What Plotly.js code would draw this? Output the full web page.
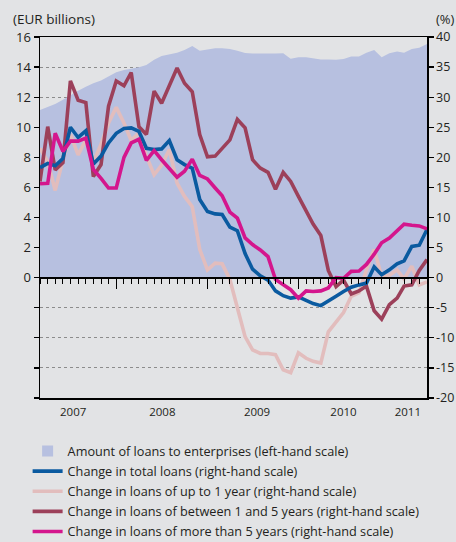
<!DOCTYPE html>
<html>
<head>
<meta charset="utf-8">
<script src="https://cdn.plot.ly/plotly-3.0.1.min.js"></script>
<style>html,body{margin:0;padding:0;background:#e2e3e5;}#chart{width:456px;height:542px;}</style>
</head>
<body>
<div id="chart"></div>
<script>
const months = [
  '2007-03','2007-04','2007-05','2007-06','2007-07','2007-08','2007-09','2007-10','2007-11','2007-12',
  '2008-01','2008-02','2008-03','2008-04','2008-05','2008-06','2008-07','2008-08','2008-09','2008-10','2008-11','2008-12',
  '2009-01','2009-02','2009-03','2009-04','2009-05','2009-06','2009-07','2009-08','2009-09','2009-10','2009-11','2009-12',
  '2010-01','2010-02','2010-03','2010-04','2010-05','2010-06','2010-07','2010-08','2010-09','2010-10','2010-11','2010-12',
  '2011-01','2011-02','2011-03','2011-04','2011-05','2011-06'
];

// Amount of loans to enterprises, EUR billions (left-hand scale)
const loansAmount = [
  11.15, 11.33, 11.55, 11.82, 12.13, 12.42, 12.70, 12.93, 13.10, 13.37,
  13.66, 13.81, 13.88, 13.99, 14.14, 14.48, 14.74, 14.87, 14.96, 15.14,
  15.40, 15.09, 15.18, 15.25, 15.25, 15.20, 15.09, 14.94, 14.90, 14.92,
  14.90, 14.90, 14.92, 14.56, 14.65, 14.65, 14.59, 14.50, 14.50, 14.48,
  14.54, 14.70, 14.70, 14.96, 15.14, 14.65, 14.92, 15.03, 14.96, 15.20,
  15.29, 15.54
];

// Changes, % (right-hand scale)
const totalLoans = [
  18.3, 19.0, 18.6, 19.8, 25.0, 23.3, 24.4, 18.9, 20.2, 22.4,
  24.0, 24.8, 24.9, 24.3, 21.5, 21.3, 21.4, 22.8, 19.6, 18.8,
  18.2, 13.0, 11.0, 10.6, 10.5, 8.4, 7.8, 4.0, 1.4, 0.3,
  -0.4, -2.2, -3.0, -3.4, -3.2, -3.8, -4.3, -4.65, -3.8, -3.1,
  -2.3, -1.6, -1.2, -0.9, 1.8, 0.5, 1.3, 2.3, 2.8, 5.2,
  5.4, 8.0
];
const upTo1Year = [
  21.5, 19.3, 14.5, 19.6, 23.8, 20.4, 22.9, 19.2, 22.2, 25.7,
  28.3, 25.7, 22.8, 24.1, 20.2, 17.1, 18.7, 21.3, 15.7, 13.5,
  11.8, 4.7, 1.3, 2.4, 2.3, -0.3, -5.0, -9.8, -12.0, -12.6,
  -12.6, -12.8, -15.3, -15.8, -12.5, -13.4, -13.9, -14.2, -9.0, -7.3,
  -5.8, -3.1, -2.5, 1.3, 4.7, 0.2, 0.4, 1.3, -0.2, 1.9,
  -1.2, -0.7
];
const between1and5 = [
  16.0, 25.1, 17.9, 19.1, 32.7, 29.5, 29.1, 16.8, 18.8, 28.5,
  32.7, 31.9, 34.1, 25.1, 23.8, 31.0, 29.0, 32.0, 34.85, 32.3,
  30.9, 23.8, 20.1, 20.2, 21.5, 22.9, 26.3, 24.9, 19.6, 18.2,
  17.5, 14.7, 17.5, 16.0, 13.5, 11.0, 8.9, 7.0, 1.2, -1.5,
  -0.4, -2.7, -2.2, -1.4, -5.5, -6.9, -4.5, -3.4, -1.4, -1.2,
  1.2, 3.0
];
const moreThan5 = [
  15.6, 15.7, 24.0, 21.0, 22.7, 22.7, 23.2, 18.0, 16.5, 14.9,
  14.9, 20.0, 22.4, 23.0, 19.5, 21.1, 19.6, 18.2, 16.7, 17.7,
  19.7, 17.0, 16.4, 14.9, 13.6, 10.9, 9.9, 6.6, 5.5, 4.6,
  3.5, -0.3, -1.2, -2.0, -3.4, -2.2, -2.3, -2.2, -1.7, 0.0,
  -0.1, 1.05, 1.1, 2.2, 3.9, 5.8, 6.6, 7.8, 8.9, 8.7,
  8.6, 8.1
];

const yearLabels = ['2007', '2008', '2009', '2010', '2011'];
const yearLabelPos = ['2007-07-12', '2008-07-04', '2009-07-19', '2010-07-01', '2011-03-16'];
const leftTicks = [-8, -6, -4, -2, 0, 2, 4, 6, 8, 10, 12, 14, 16];
const leftTickText = ['', '', '', '', '0', '2', '4', '6', '8', '10', '12', '14', '16'];
const rightTicks = [-20, -15, -10, -5, 0, 5, 10, 15, 20, 25, 30, 35, 40];
const rightTickText = ['-20', '-15', '-10', '-5', '0', '5', '10', '15', '20', '25', '30', '35', '40'];

const names = [
  'Amount of loans to enterprises (left-hand scale)',
  'Change in total loans (right-hand scale)',
  'Change in loans of up to 1 year (right-hand scale)',
  'Change in loans of between 1 and 5 years (right-hand scale)',
  'Change in loans of more than 5 years (right-hand scale)'
];
const colors = {
  area: '#b7c0e0', total: '#0a5aa0', short: '#e2bdbd', mid: '#9c405a', long: '#d4168d'
};

const FONT = 'Open Sans, Noto Sans, sans-serif';
const TXT = '#231f20';
const LW = 3.6;

const traces = [
  {
    type: 'scatter', x: months, y: loansAmount, xaxis: 'x', yaxis: 'y',
    mode: 'lines', fill: 'tozeroy', line: {width: 0, color: colors.area},
    fillcolor: colors.area, showlegend: false, hoverinfo: 'skip'
  },
  {
    type: 'scatter', x: [null], y: [null], xaxis: 'x', yaxis: 'y',
    mode: 'markers', marker: {symbol: 'square', size: 11, color: colors.area},
    name: names[0], legendrank: 1, legendgroup: 'g1'
  },
  {
    type: 'scatter', x: months, y: upTo1Year, xaxis: 'x2', yaxis: 'y2',
    mode: 'lines', line: {color: colors.short, width: LW}, name: names[2], legendrank: 3, legendgroup: 'g3'
  },
  {
    type: 'scatter', x: months, y: between1and5, xaxis: 'x2', yaxis: 'y2',
    mode: 'lines', line: {color: colors.mid, width: LW}, name: names[3], legendrank: 4, legendgroup: 'g4'
  },
  {
    type: 'scatter', x: months, y: totalLoans, xaxis: 'x2', yaxis: 'y2',
    mode: 'lines', line: {color: colors.total, width: LW}, name: names[1], legendrank: 2, legendgroup: 'g2'
  },
  {
    type: 'scatter', x: months, y: moreThan5, xaxis: 'x2', yaxis: 'y2',
    mode: 'lines', line: {color: colors.long, width: LW}, name: names[4], legendrank: 5, legendgroup: 'g5'
  }
];

const xRange = ['2007-03-01', '2011-06-01'];

const layout = {
  width: 456, height: 542,
  margin: {l: 40, r: 29, t: 37, b: 144, pad: 0, autoexpand: false},
  paper_bgcolor: '#e2e3e5', plot_bgcolor: '#e2e3e5',
  font: {family: FONT, size: 12, color: TXT},
  showlegend: true,
  xaxis: {
    type: 'date', range: xRange, tickmode: 'array', tickvals: yearLabelPos, ticktext: yearLabels,
    ticks: '', showgrid: false, zeroline: false, ticklabelstandoff: 3,
    showline: true, linecolor: '#000', linewidth: 1.5, mirror: true,
    tickfont: {family: FONT, size: 11.5, color: TXT}, fixedrange: true, automargin: false
  },
  xaxis2: {
    type: 'date', range: xRange, overlaying: 'x', anchor: 'free', position: 1/3, side: 'bottom',
    tickmode: 'linear', tick0: '2007-01-01', dtick: 'M12', ticks: 'outside', ticklen: 10,
    tickcolor: '#000', tickwidth: 1.2, showticklabels: false, showgrid: false, zeroline: false,
    showline: true, linecolor: '#000', linewidth: 2,
    minor: {dtick: 'M1', tick0: '2007-01-01', ticks: 'outside', ticklen: 5, tickcolor: '#000', tickwidth: 1, showgrid: false},
    fixedrange: true, automargin: false
  },
  yaxis: {
    range: [-8, 16], tickmode: 'array', tickvals: leftTicks, ticktext: leftTickText,
    ticks: 'outside', ticklen: 5, tickcolor: '#000', tickwidth: 1.2,
    showline: true, linecolor: '#000', linewidth: 1.5, mirror: true,
    showgrid: true, gridcolor: '#8c8c8c', griddash: 'dot', gridwidth: 1, zeroline: false,
    tickfont: {family: FONT, size: 13, color: TXT}, fixedrange: true, automargin: false
  },
  yaxis2: {
    range: [-20, 40], overlaying: 'y', side: 'right', anchor: 'x2',
    tickmode: 'array', tickvals: rightTicks, ticktext: rightTickText,
    ticks: 'outside', ticklen: 5, tickcolor: '#000', tickwidth: 1.2,
    showline: true, linecolor: '#000', linewidth: 1.5,
    showgrid: false, zeroline: false,
    tickfont: {family: FONT, size: 12.5, color: TXT}, fixedrange: true, automargin: false
  },
  legend: {
    x: -0.032, xanchor: 'left', y: -0.106, yanchor: 'top',
    bgcolor: 'rgba(0,0,0,0)', font: {family: FONT, size: 12.7, color: TXT},
    traceorder: 'grouped', tracegroupgap: 0.6, itemclick: false, itemdoubleclick: false
  },
  annotations: [
    {text: '(EUR billions)', xref: 'paper', yref: 'paper', x: 0, y: 1, xanchor: 'left', yanchor: 'bottom',
     xshift: -29, yshift: 7, showarrow: false, font: {family: FONT, size: 13.5, color: TXT}},
    {text: '(%)', xref: 'paper', yref: 'paper', x: 1, y: 1, xanchor: 'left', yanchor: 'bottom',
     xshift: 7, yshift: 7, showarrow: false, font: {family: FONT, size: 13, color: TXT}}
  ]
};

Plotly.newPlot('chart', traces, layout, {displayModeBar: false, staticPlot: true});
</script>
</body>
</html>
